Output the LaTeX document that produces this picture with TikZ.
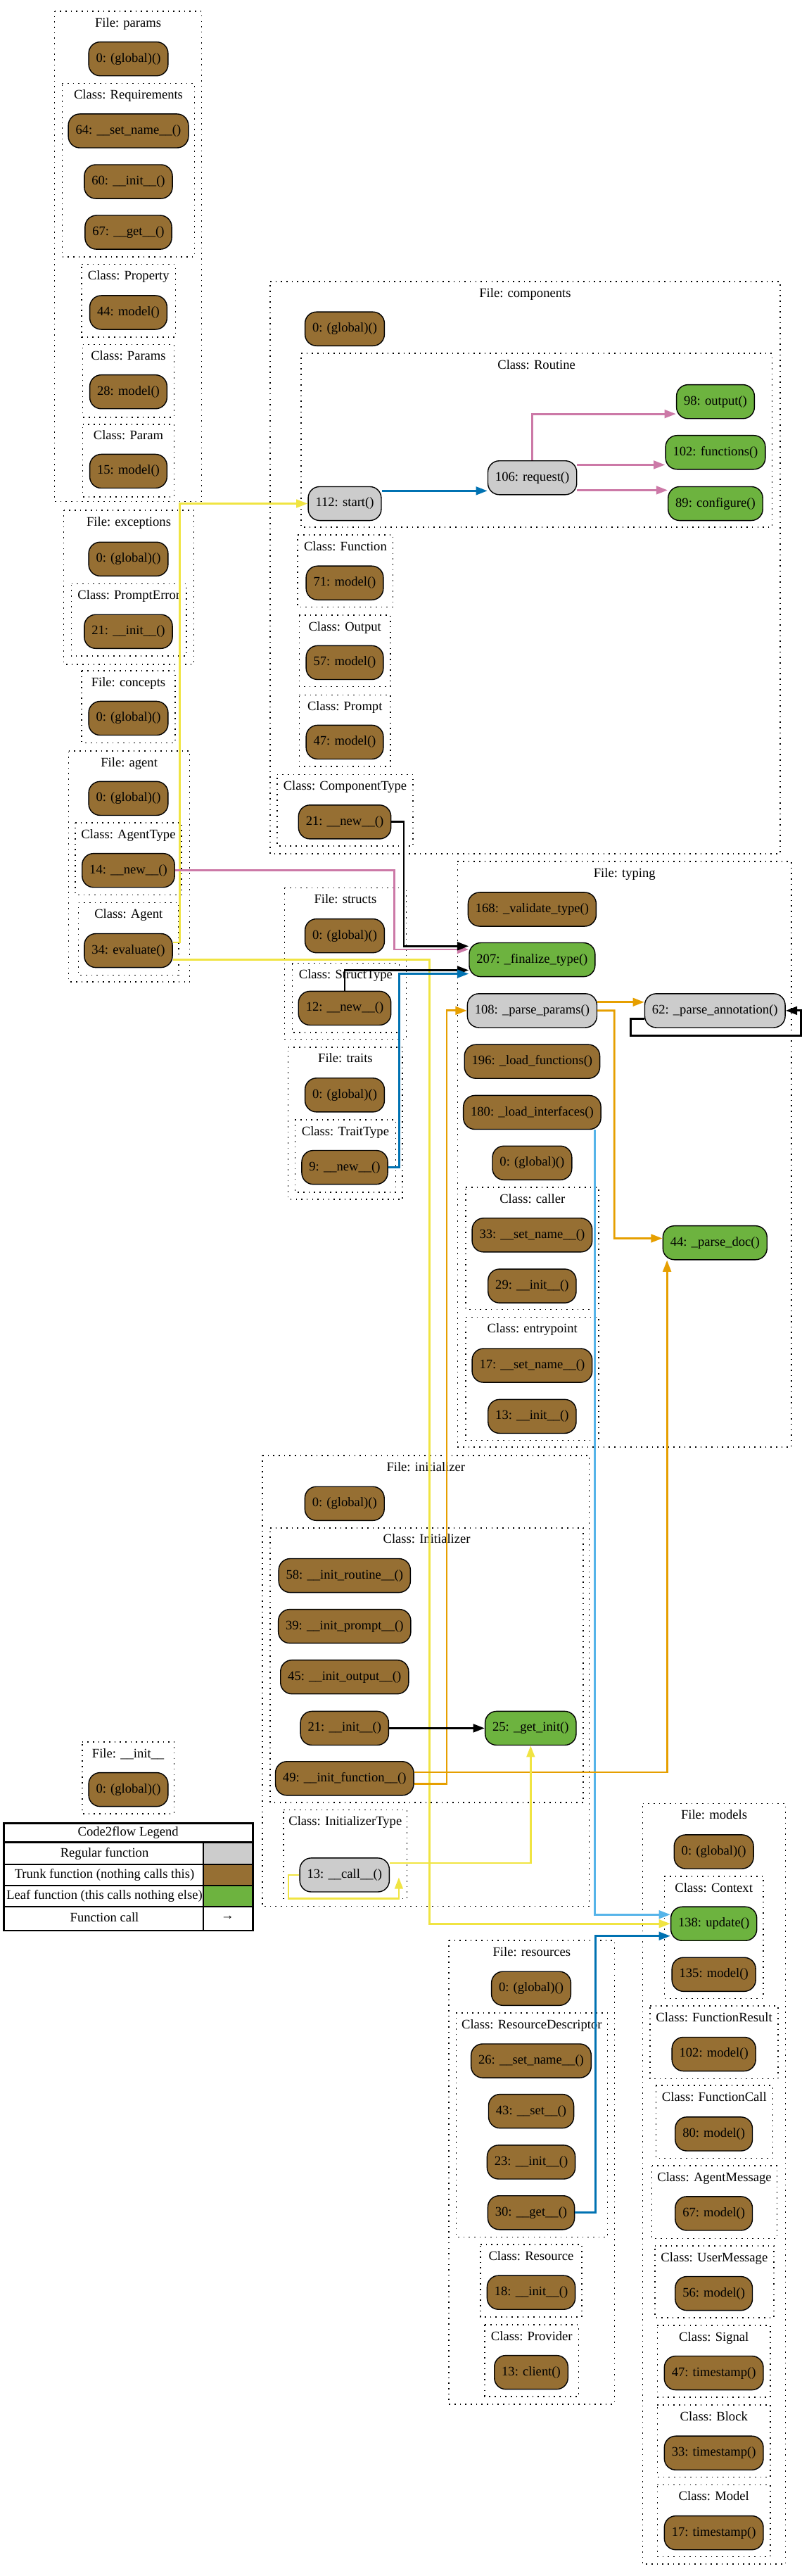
\documentclass[tikz,border=0pt]{standalone}
\usepackage{fontspec}
\setmainfont{Liberation Serif}
\usetikzlibrary{arrows.meta}
\definecolor{trunk}{HTML}{966F33}
\definecolor{leaf}{HTML}{6DB33F}
\definecolor{regular}{HTML}{CCCCCC}
\definecolor{cyellow}{HTML}{F0E442}
\definecolor{corange}{HTML}{E69F00}
\definecolor{clight}{HTML}{56B4E9}
\definecolor{cblue}{HTML}{0072B2}
\definecolor{cpink}{HTML}{CC79A7}
\begin{document}
\begin{tikzpicture}[x=1pt,y=-1pt,font=\fontsize{8}{9.6}\selectfont]
\tikzstyle{appel}=[-{Triangle[length=7pt,width=5pt]},line width=1.2pt]
\tikzset{fonction/.style={draw,line width=0.6pt,rounded corners=7pt,fill=#1,
  minimum height=20.7pt,inner xsep=4.5pt},
  fonction/.default=trunk,
  groupe/.style={line width=0.7pt,dash pattern=on 0.7pt off 2.6pt},
  titre/.style={anchor=north,yshift=-3.6pt,inner sep=0pt,text height=5.6pt,text depth=1.6pt}}
\fill[white] (0,0) rectangle (490,1574.5);
\useasboundingbox (0,0) rectangle (490,1574.5);

% file params
\draw[groupe] (33.4,6.9) -- node[titre] (G0) {File: params} (123.3,6.9) |- (33.4,306.5) -- cycle;
\draw[groupe] (38,51) -- node[titre] (G1) {Class: Requirements} (119,51) |- (38,157.1) -- cycle;
\draw[groupe] (50,161.6) -- node[titre] (G2) {Class: Property} (107.3,161.6) |- (50,206) -- cycle;
\draw[groupe] (50.6,210.5) -- node[titre] (G3) {Class: Params} (106.4,210.5) |- (50.6,255) -- cycle;
\draw[groupe] (50.6,259.3) -- node[titre] (G4) {Class: Param} (106.4,259.3) |- (50.6,303.7) -- cycle;
\node[fonction] (P0) at (78.5,36) {0: (global)()};
\node[fonction] (P1) at (78.5,80) {64: \_\_set\_name\_\_()};
\node[fonction] (P2) at (78.5,111) {60: \_\_init\_\_()};
\node[fonction] (P3) at (78.5,142) {67: \_\_get\_\_()};
\node[fonction] (P4) at (78.5,191) {44: model()};
\node[fonction] (P5) at (78.5,239.5) {28: model()};
\node[fonction] (P6) at (78.5,288) {15: model()};

% file exceptions, concepts, agent
\draw[groupe] (39,312) -- node[titre] (G5) {File: exceptions} (118.5,312) |- (39,406) -- cycle;
\draw[groupe] (43.7,356.8) -- node[titre] (G6) {Class: PromptError} (114,356.8) |- (43.7,401) -- cycle;
\draw[groupe] (50,410) -- node[titre] (G7) {File: concepts} (107,410) |- (50,454) -- cycle;
\draw[groupe] (42,459) -- node[titre] (G8) {File: agent} (116,459) |- (42,600) -- cycle;
\draw[groupe] (46,503) -- node[titre] (G9) {Class: AgentType} (111,503) |- (46,547) -- cycle;
\draw[groupe] (48,551.7) -- node[titre] (G10) {Class: Agent} (109.3,551.7) |- (48,596) -- cycle;
\node[fonction] (E0) at (78.5,341.7) {0: (global)()};
\node[fonction] (E1) at (78.5,386) {21: \_\_init\_\_()};
\node[fonction] (K0) at (78.5,439) {0: (global)()};
\node[fonction] (A0) at (78.5,488) {0: (global)()};
\node[fonction] (A1) at (78.5,532) {14: \_\_new\_\_()};
\node[fonction] (A2) at (78.5,581) {34: evaluate()};

% file components
\draw[groupe] (165.2,172.1) -- node[titre] (G11) {File: components} (477,172.1) |- (165.2,521.8) -- cycle;
\draw[groupe] (184.1,216) -- node[titre] (G12) {Class: Routine} (472.1,216) |- (184.1,322.3) -- cycle;
\draw[groupe] (182.1,326.9) -- node[titre] (G13) {Class: Function} (240.3,326.9) |- (182.1,371) -- cycle;
\draw[groupe] (183,375.9) -- node[titre] (G14) {Class: Output} (238.8,375.9) |- (183,419.6) -- cycle;
\draw[groupe] (183,424.8) -- node[titre] (G15) {Class: Prompt} (238.8,424.8) |- (183,468.6) -- cycle;
\draw[groupe] (169.4,473.4) -- node[titre] (G16) {Class: ComponentType} (252.6,473.4) |- (169.4,517) -- cycle;
\node[fonction] (C0) at (210.8,201) {0: (global)()};
\node[fonction=regular] (C1) at (210.8,307.8) {112: start()};
\node[fonction=regular] (C2) at (325.5,292) {106: request()};
\node[fonction=leaf] (C3) at (437.5,245.5) {98: output()};
\node[fonction=leaf] (C4) at (437.5,276.5) {102: functions()};
\node[fonction=leaf] (C5) at (437.5,307.8) {89: configure()};
\node[fonction] (C6) at (210.8,356.3) {71: model()};
\node[fonction] (C7) at (210.8,405) {57: model()};
\node[fonction] (C8) at (210.8,453.6) {47: model()};
\node[fonction] (C9) at (210.8,502.4) {21: \_\_new\_\_()};

% files structs, traits
\draw[groupe] (174,542.6) -- node[titre] (G17) {File: structs} (248.4,542.6) |- (174,635.2) -- cycle;
\draw[groupe] (178.7,588.7) -- node[titre] (G18) {Class: StructType} (244.1,588.7) |- (178.7,631.1) -- cycle;
\draw[groupe] (176.2,640) -- node[titre] (G19) {File: traits} (246.2,640) |- (176.2,733.1) -- cycle;
\draw[groupe] (180.4,684.5) -- node[titre] (G20) {Class: TraitType} (242,684.5) |- (180.4,728.7) -- cycle;
\node[fonction] (S0) at (210.8,572) {0: (global)()};
\node[fonction] (S1) at (210.8,616.2) {12: \_\_new\_\_()};
\node[fonction] (T0) at (210.8,669.3) {0: (global)()};
\node[fonction] (T1) at (210.8,713.5) {9: \_\_new\_\_()};

% file typing
\draw[groupe] (279.8,526.6) -- node[titre] (G21) {File: typing} (484,526.6) |- (279.8,884.5) -- cycle;
\draw[groupe] (284.9,725.8) -- node[titre] (G22) {Class: caller} (366.2,725.8) |- (284.9,800.3) -- cycle;
\draw[groupe] (284.9,805.1) -- node[titre] (G23) {Class: entrypoint} (366.2,805.1) |- (284.9,880.4) -- cycle;
\node[fonction] (Y0) at (325.4,555.8) {168: \_validate\_type()};
\node[fonction=leaf] (Y1) at (325.4,586.6) {207: \_finalize\_type()};
\node[fonction=regular] (Y2) at (325.4,617.7) {108: \_parse\_params()};
\node[fonction=regular] (Y3) at (437.2,617.7) {62: \_parse\_annotation()};
\node[fonction] (Y4) at (325.4,648.8) {196: \_load\_functions()};
\node[fonction] (Y5) at (325.4,679.9) {180: \_load\_interfaces()};
\node[fonction] (Y6) at (325.4,710.8) {0: (global)()};
\node[fonction] (Y7) at (325.4,754.9) {33: \_\_set\_name\_\_()};
\node[fonction] (Y8) at (325.4,786) {29: \_\_init\_\_()};
\node[fonction] (Y9) at (325.4,834.6) {17: \_\_set\_name\_\_()};
\node[fonction] (Y10) at (325.4,865.7) {13: \_\_init\_\_()};
\node[fonction=leaf] (Y11) at (437.2,759.6) {44: \_parse\_doc()};

% file initializer
\draw[groupe] (160.5,889.6) -- node[titre] (G24) {File: initializer} (360.3,889.6) |- (160.5,1165.2) -- cycle;
\draw[groupe] (165.2,933.8) -- node[titre] (G25) {Class: Initializer} (356.7,933.8) |- (165.2,1101.8) -- cycle;
\draw[groupe] (173.4,1106.2) -- node[titre] (G26) {Class: InitializerType} (248.9,1106.2) |- (173.4,1160.4) -- cycle;
\node[fonction] (I0) at (210.7,919) {0: (global)()};
\node[fonction] (I1) at (210.7,963) {58: \_\_init\_routine\_\_()};
\node[fonction] (I2) at (210.7,994) {39: \_\_init\_prompt\_\_()};
\node[fonction] (I3) at (210.7,1025) {45: \_\_init\_output\_\_()};
\node[fonction] (I4) at (210.7,1056.3) {21: \_\_init\_\_()};
\node[fonction=leaf] (I5) at (324.5,1056.3) {25: \_get\_init()};
\node[fonction] (I6) at (210.7,1087) {49: \_\_init\_function\_\_()};
\node[fonction=regular] (I7) at (210.7,1146) {13: \_\_call\_\_()};

% file __init__
\draw[groupe] (50.2,1064.7) -- node[titre] (G27) {File: \_\_init\_\_} (106.5,1064.7) |- (50.2,1108.5) -- cycle;
\node[fonction] (N0) at (78.5,1093.8) {0: (global)()};

% legend
\fill[regular] (124.3,1126.4) rectangle (153.9,1139.5);
\fill[trunk] (124.3,1139.5) rectangle (153.9,1152.4);
\fill[leaf] (124.3,1152.4) rectangle (153.9,1165.5);
\draw[line width=1.2pt] (2.2,1114.3) rectangle (154.5,1180);
\draw[line width=1.2pt] (2.2,1125.9) -- (154.5,1125.9);
\draw[line width=0.7pt] (3.2,1139.5) -- (153.9,1139.5) (3.2,1152.4) -- (153.9,1152.4)
  (3.2,1165.5) -- (153.9,1165.5) (124.3,1125.9) -- (124.3,1179.4);
\node (L0) at (78.4,1120) {Code2flow Legend};
\node (L1) at (63.9,1133.1) {Regular function};
\node (L2) at (63.9,1146) {Trunk function (nothing calls this)};
\node (L3) at (63.9,1159) {Leaf function (this calls nothing else)};
\node (L4) at (63.9,1172) {Function call};
\node (L5) at (139.1,1172) {→};

% file models
\draw[groupe] (393,1102.3) -- node[titre] (G28) {File: models} (480.3,1102.3) |- (393,1567.3) -- cycle;
\draw[groupe] (406.3,1146.8) -- node[titre] (G29) {Class: Context} (466.7,1146.8) |- (406.3,1221.5) -- cycle;
\draw[groupe] (397.5,1226.1) -- node[titre] (G30) {Class: FunctionResult} (475.9,1226.1) |- (397.5,1270.6) -- cycle;
\draw[groupe] (401.1,1274.7) -- node[titre] (G31) {Class: FunctionCall} (472.5,1274.7) |- (401.1,1319.2) -- cycle;
\draw[groupe] (398.6,1323.8) -- node[titre] (G32) {Class: AgentMessage} (475.1,1323.8) |- (398.6,1368.2) -- cycle;
\draw[groupe] (400.4,1372.7) -- node[titre] (G33) {Class: UserMessage} (473.2,1372.7) |- (400.4,1416.7) -- cycle;
\draw[groupe] (402,1421.4) -- node[titre] (G34) {Class: Signal} (471.1,1421.4) |- (402,1465.2) -- cycle;
\draw[groupe] (402,1469.9) -- node[titre] (G35) {Class: Block} (471.1,1469.9) |- (402,1514.1) -- cycle;
\draw[groupe] (402,1518.8) -- node[titre] (G36) {Class: Model} (471.1,1518.8) |- (402,1562.6) -- cycle;
\node[fonction] (M0) at (436.5,1131.8) {0: (global)()};
\node[fonction=leaf] (M1) at (436.5,1175.8) {138: update()};
\node[fonction] (M2) at (436.5,1206.8) {135: model()};
\node[fonction] (M3) at (436.5,1255.5) {102: model()};
\node[fonction] (M4) at (436.5,1304.3) {80: model()};
\node[fonction] (M5) at (436.5,1352.9) {67: model()};
\node[fonction] (M6) at (436.5,1401.8) {56: model()};
\node[fonction] (M7) at (436.5,1450.4) {47: timestamp()};
\node[fonction] (M8) at (436.5,1499.3) {33: timestamp()};
\node[fonction] (M9) at (436.5,1548.1) {17: timestamp()};

% file resources
\draw[groupe] (274.5,1186.1) -- node[titre] (G37) {File: resources} (375.8,1186.1) |- (274.5,1469.4) -- cycle;
\draw[groupe] (278.9,1230.3) -- node[titre] (G38) {Class: ResourceDescriptor} (371.4,1230.3) |- (278.9,1367.3) -- cycle;
\draw[groupe] (293.8,1371.9) -- node[titre] (G39) {Class: Resource} (355.8,1371.9) |- (293.8,1416.2) -- cycle;
\draw[groupe] (296.5,1420.9) -- node[titre] (G40) {Class: Provider} (353.8,1420.9) |- (296.5,1464.7) -- cycle;
\node[fonction] (R0) at (324.8,1215.4) {0: (global)()};
\node[fonction] (R1) at (324.8,1259.6) {26: \_\_set\_name\_\_()};
\node[fonction] (R2) at (324.8,1290.4) {43: \_\_set\_\_()};
\node[fonction] (R3) at (324.8,1321.5) {23: \_\_init\_\_()};
\node[fonction] (R4) at (324.8,1352.4) {30: \_\_get\_\_()};
\node[fonction] (R5) at (324.8,1401.2) {18: \_\_init\_\_()};
\node[fonction] (R6) at (324.8,1450) {13: client()};

% calls
\draw[appel,cyellow] ([yshift=5pt]A2.east) -| (110,307.8) -- (C1.west);
\draw[appel,cyellow] ([yshift=-5.7pt]A2.east) -| (262.6,1175.8) -- (M1.west);
\draw[appel,cblue] ([yshift=7.8pt]C1.east) -- ([yshift=7.8pt]C1.east -| C2.west);
\draw[appel,cpink] (C2.north) |- ([yshift=-7.5pt]C3.west);
\draw[appel,cpink] ([yshift=7.9pt]C2.east) -- ([yshift=7.9pt]C2.east -| C4.west);
\draw[appel,cpink] ([yshift=-7.6pt]C2.east) -- ([yshift=-7.6pt]C2.east -| C5.west);
\draw[appel,cpink] (A1.east) -| (241.1,580.3) -- ([yshift=6.3pt]Y1.west);
\draw[appel,black] (C9.east) -| (246.9,578.3) -- ([yshift=8.3pt]Y1.west);
\draw[appel,black] (S1.north) |- ([yshift=-6.4pt]Y1.west);
\draw[appel,cblue] (T1.east) -| (244.1,595.2) -- ([yshift=-8.6pt]Y1.west);
\draw[appel,corange] ([yshift=5.2pt]Y2.east) -- ([yshift=5.2pt]Y2.east -| Y3.west);
\draw[appel,corange] (Y2.east) -| (375.7,756.9) -- ([yshift=2.7pt]Y11.west);
\draw[appel,black] ([yshift=-5pt]Y3.west) -| (385.5,633) -| (489.6,617.7) -- (Y3.east);
\draw[appel,clight] ([xshift=-4pt]Y5.south east) |- ([yshift=5.6pt]M1.west);
\draw[appel,corange] ([yshift=-3.3pt]I6.east) -| (273.2,617.7) -- (Y2.west);
\draw[appel,corange] ([yshift=3.8pt]I6.east) -| ([xshift=2.8pt]Y11.south west);
\draw[appel,black] (I4.east) -- (I4.east -| I5.west);
\draw[appel,cyellow] ([yshift=7.3pt]I7.east) -| (I5.south);
\draw[appel,cyellow] (I7.west) -| (176.4,1160.4) -| ([xshift=5.5pt,yshift=-1.5pt]I7.east);
\draw[appel,cblue] (R4.east) -| (364.1,1183.3) -- ([yshift=-7.5pt]M1.west);

\end{tikzpicture}
\end{document}
